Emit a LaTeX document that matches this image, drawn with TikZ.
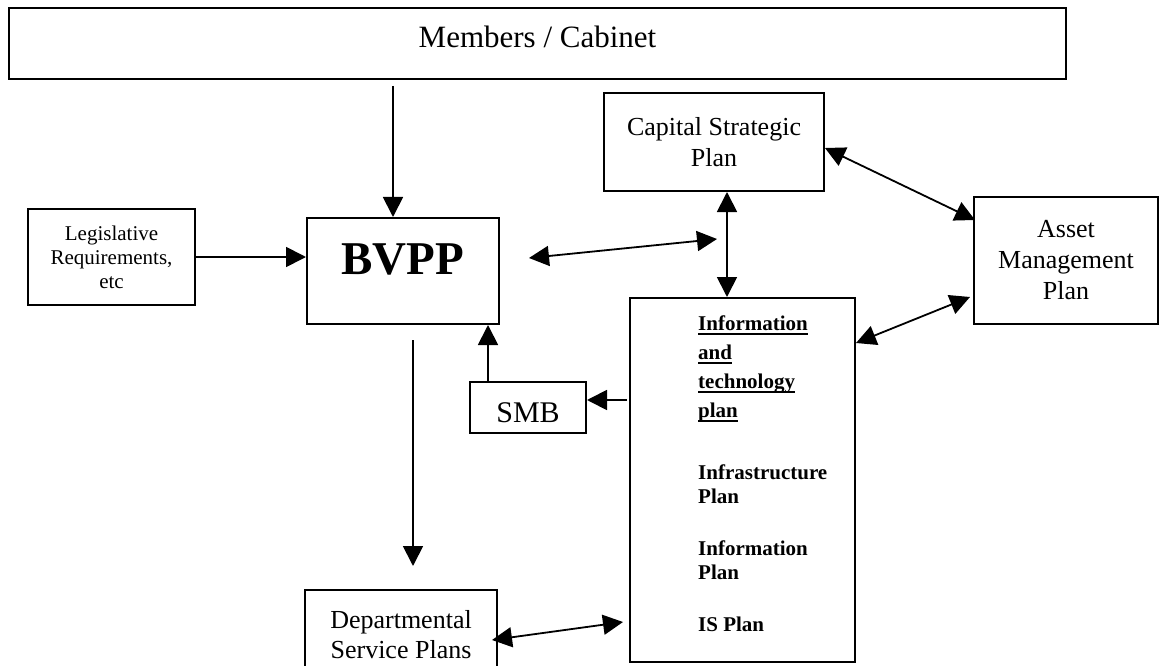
\documentclass[tikz,border=0pt]{standalone}
\usepackage{fontspec}
\setmainfont{Liberation Serif}
\usetikzlibrary{arrows.meta}
\newcommand\ulx[1]{\setbox0\hbox{#1}\rlap{\rule[-4.5pt]{\wd0}{1.6pt}}\box0}
\begin{document}
\begin{tikzpicture}[x=1pt,y=-1pt,
  box/.style={draw,line width=2pt,inner sep=0pt},
  arr/.style={line width=1.8pt,-{Triangle[length=20pt,width=20pt]}},
  darr/.style={line width=1.8pt,{Triangle[length=20pt,width=20pt]}-{Triangle[length=20pt,width=20pt]}},
  txt/.style={font=\fontsize{26}{31}\selectfont,align=center}]
\useasboundingbox[fill=white] (0,0) rectangle (1160,666);

% boxes
\node[box,line width=2.4pt,minimum width=1057,minimum height=71,text height=40,text depth=31,
      font=\fontsize{31}{36}\selectfont] (mem) at (537.5,43.5) {Members / Cabinet};
\node[box,minimum width=167,minimum height=96,font=\fontsize{21}{24}\selectfont,align=center]
      (leg) at (111.5,257) {Legislative\\Requirements,\\etc};
\node[box,minimum width=192,minimum height=106,text height=56,text depth=50,
      font=\fontsize{47}{52}\selectfont\bfseries] (bvpp) at (403,271) {BVPP};
\node[box,minimum width=116,minimum height=51,text height=40.7,text depth=10.3,
      font=\fontsize{30}{34}\selectfont] (smb) at (528,407.5) {SMB};
\node[box,txt,minimum width=220,minimum height=98] (cap) at (714,142) {Capital Strategic\\Plan};
\node[box,txt,minimum width=184,minimum height=127] (asset) at (1066,260.5) {Asset\\Management\\Plan};
\node[box,txt,minimum width=192,minimum height=90,font=\fontsize{26}{30}\selectfont] (dept) at (401,635) {Departmental\\Service Plans};
\node[box,minimum width=225,minimum height=364] (it) at (742.5,480) {};
\node[inner sep=0pt,anchor=north west,align=left,font=\fontsize{21}{24}\selectfont\bfseries]
      (itt) at (698,315.5) {\ulx{Information}\\[5pt]\ulx{and}\\[5pt]\ulx{technology}\\[5pt]\ulx{plan}\\[38pt]
      Infrastructure\\Plan\\[28pt]Information\\Plan\\[28pt]IS Plan};

% free ends
\coordinate (m1) at (393,86);
\coordinate (b1) at (413,340);
\coordinate (b2) at (413,566);
\coordinate (s1) at (627,400);
\coordinate (d1) at (529,258);
\coordinate (d2) at (717,239);
\coordinate (c1) at (727,0);
\coordinate (ca1) at (825,148);
\coordinate (ca2) at (975,220);
\coordinate (ia1) at (856,343);
\coordinate (ia2) at (970,297);
\coordinate (di1) at (492,640);
\coordinate (di2) at (623,622);

% connectors
\draw[arr] (m1) -- (m1 |- bvpp.north);
\draw[arr] (leg.east) -- (bvpp.west |- leg.east);
\draw[arr] (b1) -- (b2);
\draw[arr] ([xshift=19pt]smb.north west) -- ([xshift=19pt]smb.north west |- bvpp.south);
\draw[arr] (s1) -- (s1 -| smb.east);
\draw[darr] (d1) -- (d2);
\draw[darr] (cap.south -| c1) -- (it.north -| c1);
\draw[darr] (ca1) -- (ca2);
\draw[darr] (ia1) -- (ia2);
\draw[darr] (di1) -- (di2);
\end{tikzpicture}
\end{document}
